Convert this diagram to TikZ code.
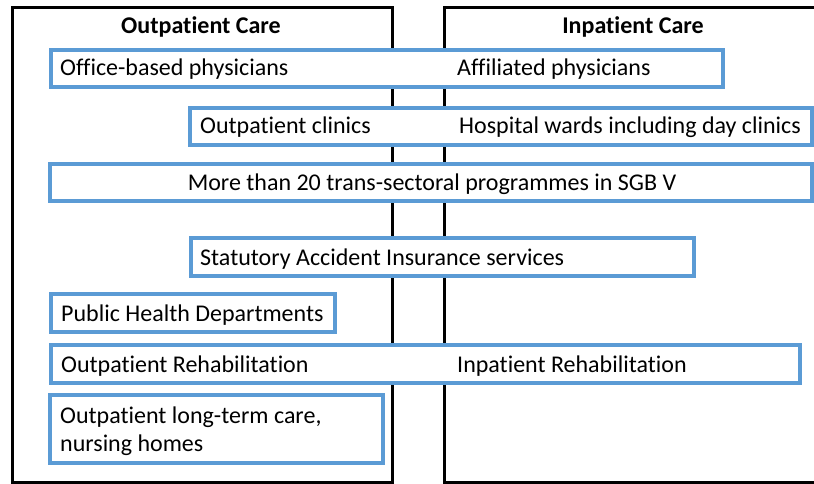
\documentclass[tikz,border=0pt]{standalone}
\usepackage{fontspec}
\setmainfont{Carlito}[Ligatures=NoCommon]
\definecolor{boxblue}{RGB}{91,155,213}
\begin{document}
\begin{tikzpicture}[x=1pt,y=-1pt,
  frame/.style={draw=black,line width=3pt,inner sep=0pt,anchor=north west},
  bbox/.style={draw=boxblue,line width=4pt,fill=white,inner sep=0pt},
  txt/.style={inner sep=0pt,anchor=base west,align=left,font=\fontsize{24}{28}\selectfont},
  head/.style={inner sep=0pt,anchor=base,font=\fontsize{24}{28}\selectfont\bfseries}]
\useasboundingbox (0,0) rectangle (814,484);
\begin{scope}
\clip (0,0) rectangle (814,484);
% frames
\node[frame, minimum width=380.5pt, minimum height=474.5pt] (outbox) at (10.5,6.5) {};
\node[frame, minimum width=380pt, minimum height=474.5pt] (inbox) at (443,6.5) {};
\node[head] (outhead) at (201,34) {Outpatient Care};
\node[head] (inhead) at (633,34) {Inpatient Care};
% blue boxes
\node[bbox, minimum width=672pt, minimum height=37pt] (b1) at (387,68.5) {};
\node[bbox, minimum width=622pt, minimum height=37pt] (b2) at (501,126.5) {};
\node[bbox, minimum width=762pt, minimum height=37pt] (b3) at (431,182.5) {};
\node[bbox, minimum width=503pt, minimum height=38pt] (b4) at (442.5,257) {};
\node[bbox, minimum width=284pt, minimum height=38pt] (b5) at (193,313) {};
\node[bbox, minimum width=749pt, minimum height=38pt] (b6) at (425.5,364) {};
\node[bbox, minimum width=333pt, minimum height=68pt] (b7) at (216.5,429) {};
% texts
\node[txt] (t1a) at (60,76) {Office-based physicians};
\node[txt] (t1b) at (457,76) {Affiliated physicians};
\node[txt] (t2a) at (200,134) {Outpatient clinics};
\node[txt] (t2b) at (459,134) {Hospital wards including day clinics};
\node[txt, anchor=base] (t3) at (432,190) {More than 20 trans-sectoral programmes in SGB V};
\node[txt] (t4) at (200,265) {Statutory Accident Insurance services};
\node[txt] (t5) at (61,321) {Public Health Departments};
\node[txt] (t6a) at (61,372) {Outpatient Rehabilitation};
\node[txt] (t6b) at (457,372) {Inpatient Rehabilitation};
\node[txt] (t7) at (60,451) {Outpatient long-term care,\\nursing homes};
\end{scope}
\end{tikzpicture}
\end{document}
